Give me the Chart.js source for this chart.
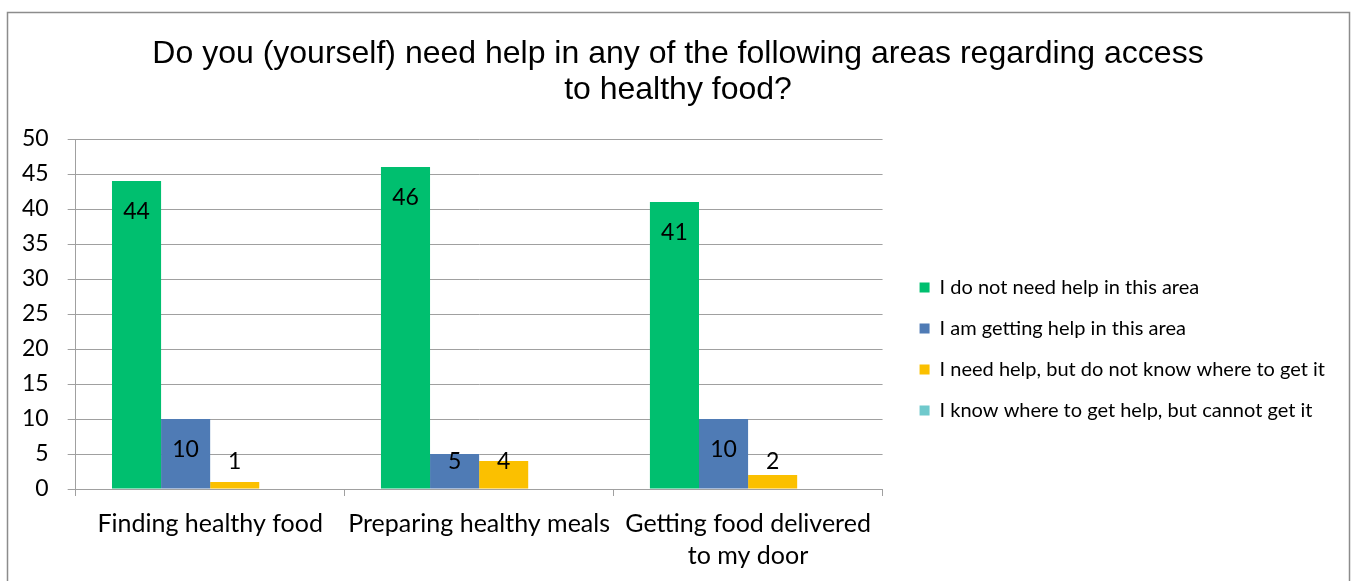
<!DOCTYPE html>
<html>
<head>
<meta charset="utf-8">
<script src="https://cdn.jsdelivr.net/npm/chart.js@4"></script>
<style>
    html, body { margin: 0; padding: 0; background: #fff; }
    #wrap { width: 1354px; height: 581px; }
</style>
</head>
<body>
<div id="wrap"><canvas id="helpChart" width="1354" height="581"></canvas></div>
<script>
const categories = ['Finding healthy food', 'Preparing healthy meals', ['Getting food delivered', 'to my door']];
const noHelpNeeded = [44, 46, 41];
const gettingHelp = [10, 5, 10];
const needHelpDontKnow = [1, 4, 2];
const knowButCannot = [0, 0, 0];
const yTicks = [0, 5, 10, 15, 20, 25, 30, 35, 40, 45, 50];

const bodyFont = 'Lato, "Open Sans", sans-serif';
const gridGray = '#A0A0A0';

// frame round the whole chart
const framePlugin = {
    id: 'frame',
    afterDraw(chart) {
        const ctx = chart.ctx;
        ctx.save();
        ctx.strokeStyle = '#8C8C8C';
        ctx.lineWidth = 1.5;
        ctx.strokeRect(7.5, 12.5, 1342, 600);
        ctx.restore();
    }
};

// Excel centres the title on the whole frame and drops the legend lower than the plot
const boxShift = {
    id: 'boxShift',
    afterLayout(chart) {
        chart.legend.top += 45;
        chart.legend.bottom += 45;
        chart.titleBlock.left += 9;
        chart.titleBlock.right += 9;
    }
};

// value labels, Excel "inside end" style
const valueLabels = {
    id: 'valueLabels',
    afterDatasetsDraw(chart) {
        const ctx = chart.ctx;
        const base = chart.scales.y.getPixelForValue(0);
        ctx.save();
        ctx.font = '23px ' + bodyFont;
        ctx.fillStyle = '#000';
        ctx.textAlign = 'center';
        ctx.textBaseline = 'middle';
        chart.data.datasets.forEach((ds, i) => {
            chart.getDatasetMeta(i).data.forEach((bar, j) => {
                const v = ds.data[j];
                if (!v) return;
                const y = Math.min(bar.y + 31, base - 27);
                ctx.fillText(String(v), bar.x, y);
            });
        });
        ctx.restore();
    }
};

new Chart(document.getElementById('helpChart'), {
    type: 'bar',
    data: {
        labels: categories,
        datasets: [
            { label: 'I do not need help in this area', data: noHelpNeeded, backgroundColor: '#00BF6F' },
            { label: 'I am getting help in this area', data: gettingHelp, backgroundColor: '#4F7BB5' },
            { label: 'I need help, but do not know where to get it', data: needHelpDontKnow, backgroundColor: '#FBC000' },
            { label: 'I know where to get help, but cannot get it', data: knowButCannot, backgroundColor: '#6FC9CC' }
        ]
    },
    options: {
        responsive: false,
        animation: false,
        layout: { padding: { left: 3, right: 19, top: 36, bottom: 9 } },
        datasets: { bar: { categoryPercentage: 0.73, barPercentage: 1.0 } },
        plugins: {
            title: {
                display: true,
                text: ['Do you (yourself) need help in any of the following areas regarding access', 'to healthy food?'],
                color: '#000',
                font: { family: '"Liberation Sans", Arial, sans-serif', size: 32, weight: 'normal', lineHeight: 1.125 },
                padding: { top: 0, bottom: 31 }
            },
            legend: {
                position: 'right',
                maxWidth: 470,
                labels: {
                    color: '#000',
                    font: { family: bodyFont, size: 20 },
                    boxWidth: 10,
                    boxHeight: 10,
                    padding: 21
                }
            },
            tooltip: { enabled: false }
        },
        scales: {
            x: {
                grid: { display: true, offset: true, drawOnChartArea: false, drawTicks: true, tickLength: 7, color: gridGray },
                border: { color: gridGray },
                ticks: { color: '#000', font: { family: bodyFont, size: 25, lineHeight: 1.28 }, padding: 12, maxRotation: 0 },
                afterFit(axis) { axis.height = 83; }
            },
            y: {
                min: 0,
                max: 50,
                afterBuildTicks(axis) { axis.ticks = yTicks.map(v => ({ value: v })); },
                grid: { color: gridGray, tickLength: 8 },
                border: { color: gridGray },
                ticks: { color: '#000', font: { family: bodyFont, size: 23 }, padding: 19 }
            },
            gap: {
                position: 'right',
                display: true,
                grid: { display: false },
                border: { display: false },
                ticks: { display: false },
                afterFit(axis) { axis.width = 16; }
            }
        }
    },
    plugins: [framePlugin, boxShift, valueLabels]
});
</script>
</body>
</html>
